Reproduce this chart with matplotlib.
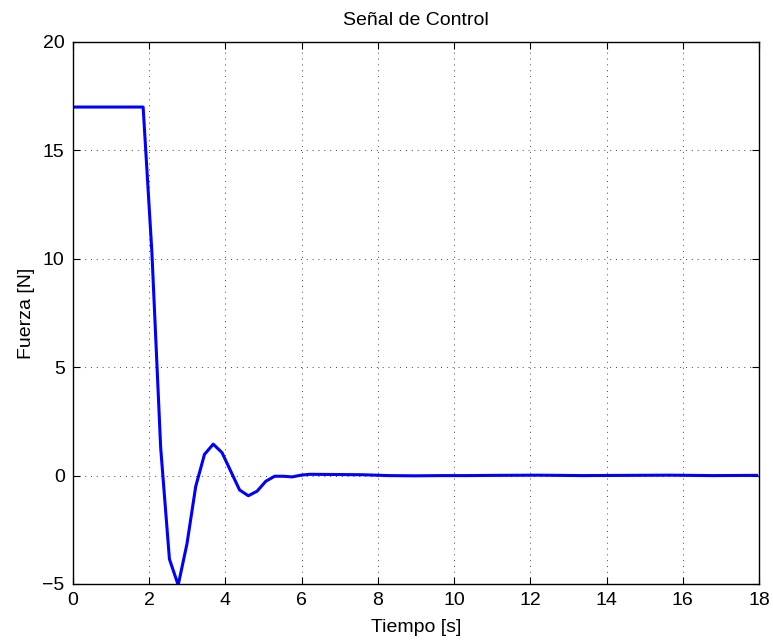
import matplotlib
matplotlib.use("Agg")
import matplotlib.pyplot as plt

plt.rcParams['font.family'] = ['Liberation Sans', 'DejaVu Sans']

# Control signal samples (sampling step 0.23 s during the transient)
tiempo = [0.0, 0.23, 0.46, 0.69, 0.92, 1.15, 1.38, 1.61, 1.84,
          2.07, 2.30, 2.53, 2.76, 2.99, 3.22, 3.45, 3.68, 3.91,
          4.14, 4.37, 4.60, 4.83, 5.06, 5.29, 5.52, 5.75, 5.98, 6.21,
          6.90, 7.59, 8.28, 8.97, 9.66, 10.35, 11.04, 12.19, 13.34,
          14.49, 15.64, 16.79, 17.94]
fuerza = [17.0, 17.0, 17.0, 17.0, 17.0, 17.0, 17.0, 17.0, 17.0,
          10.3, 1.3, -3.85, -5.05, -3.15, -0.5, 0.98, 1.45, 1.06,
          0.2, -0.66, -0.93, -0.72, -0.26, -0.03, -0.03, -0.06, 0.02, 0.06,
          0.05, 0.04, 0.0, -0.01, 0.0, 0.0, 0.01, 0.02, 0.0,
          0.01, 0.02, 0.0, 0.01]

x_ticks = list(range(0, 19, 2))
y_ticks = [-5, 0, 5, 10, 15, 20]

fig = plt.figure(figsize=(7.73, 6.43), dpi=100)
ax = fig.add_axes([73 / 773, 59 / 643, 686 / 773, 542 / 643])

ax.plot(tiempo, fuerza, color='#0000ff', linewidth=2.2)

ax.set_xlim(0, 18)
ax.set_ylim(-5, 20)
ax.set_xticks(x_ticks)
ax.set_yticks(y_ticks)
ax.set_yticklabels(['\u22125' if v < 0 else str(v) for v in y_ticks])

ax.grid(True, linestyle=(0, (1, 5)), color='#444444', linewidth=0.7)
ax.tick_params(direction='in', top=True, right=True, length=5, width=0.8,
               labelsize=14)
ax.tick_params(axis='y', pad=6)
ax.tick_params(axis='x', pad=6)
for s in ax.spines.values():
    s.set_linewidth(1.0)
    s.set_color('black')

ax.set_title('Señal de Control', fontsize=14, pad=12)
ax.set_xlabel('Tiempo [s]', fontsize=14, labelpad=7)
ax.set_ylabel('Fuerza [N]', fontsize=14, labelpad=5)

fig.savefig('out.png', dpi=100)
